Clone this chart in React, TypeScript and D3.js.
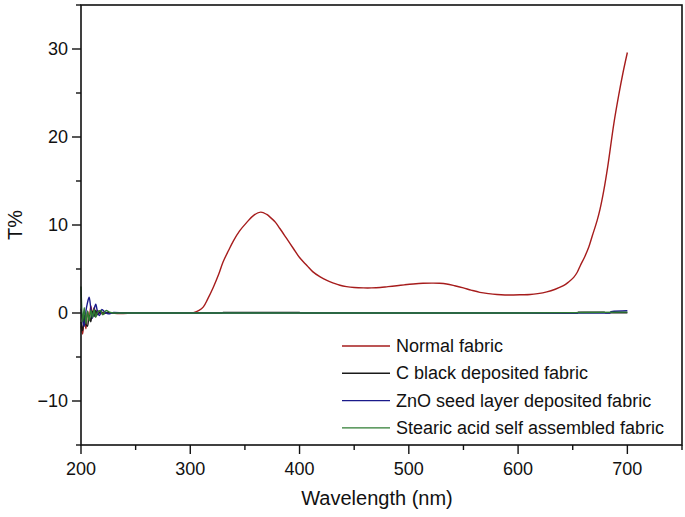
import React from "react";
import * as d3 from "d3";

const xTicksMajor = [200, 300, 400, 500, 600, 700];
const xTicksMinor = [250, 350, 450, 550, 650, 750];
const yTicksMajor = [-10, 0, 10, 20, 30];
const yTicksMinor = [-15, -5, 5, 15, 25, 35];

const seriesNames = [
  "Normal fabric",
  "C black deposited fabric",
  "ZnO seed layer deposited fabric",
  "Stearic acid self assembled fabric",
];
const seriesColors = ["#a61c1c", "#1a1a1a", "#1a1a8a", "#2e7d32"];

const normalWl = [200,201.5,203,204.5,206,207.5,209,210.5,212,213.5,215,218,221,224,228,235,250,270,290,300,303,308,312,316,321,326,330,335,339.5,345,351.7,358,364.5,370,373,378,382,388,394.5,400,406.7,412,418.9,425,431,437,443,450,458.5,466,473.8,481,489,496,504,513,522.4,528,534.6,542,549.9,557,565,573,580.7,588,595.9,603,611,618,626.3,634,641.5,646,650.9,654,657,661,664.7,668,672.3,675,678.4,682,687.6,692,696,700];
const normalT = [-1.5,-2.4,-0.4,-1.8,0.2,-0.7,0.8,-0.2,0.6,-0.2,0.3,-0.1,0.1,0,0,-0.05,0,0,0,0,0.05,0.3,0.7,1.6,2.9,4.4,5.8,7.1,8.2,9.3,10.3,11.1,11.46,11.2,10.9,10.3,9.6,8.5,7.3,6.3,5.4,4.7,4.1,3.7,3.4,3.15,3.0,2.9,2.85,2.85,2.9,3.0,3.1,3.2,3.3,3.38,3.4,3.38,3.3,3.1,2.85,2.6,2.35,2.2,2.1,2.05,2.05,2.07,2.1,2.2,2.4,2.7,3.1,3.5,4.05,4.6,5.4,6.4,7.5,8.8,10.5,11.8,13.9,16.6,21.5,24.7,27.3,29.6];

const blackWl = [200,201.5,203,204.5,206,207.5,209,210.5,212,213.5,215,218,221,224,227,232,240,260,280,300,329,330,400,401,450,500,550,600,654,655,679,680,700];
const blackT = [-1.0,-2.0,-0.2,-1.3,-1.5,-0.3,-1.0,0.2,-0.4,0.3,-0.2,0.2,-0.1,0.1,0,0,0.03,0,0,0,0,0.06,0.06,0,0,0,0,0,0,0.08,0.08,0.03,0.03];

const blueWl = [200,201.5,203,204.5,206,207.5,209,210.5,212,213.5,215,217,219,222,225,230,240,260,300,400,500,600,684,685,700];
const blueT = [0.5,-0.8,-1.5,0.2,1.2,1.8,0.5,-0.6,0.4,1.0,0.2,-0.3,0.4,0.1,-0.1,0.05,0,0,0,0,0,0,0,0.15,0.25];

const greenWl = [200,201.5,203,204.5,206,207.5,209,210.5,212,213.5,215,218,220,223,226,230,240,260,300,400,500,600,660,700];
const greenT = [3.0,-1.0,0.6,-1.2,0.2,-0.9,0.3,-0.5,0.4,-0.5,0.1,0.3,-0.2,0.3,0.1,0,0,0,0,0,0,0,0.05,0.1];

const seriesWl = [normalWl, blackWl, blueWl, greenWl];
const seriesT = [normalT, blackT, blueT, greenT];

const W = 685;
const H = 517;
const left = 81;
const right = 682;
const top = 5;
const bottom = 445;

export default function App() {
  const x = d3.scaleLinear().domain([200, 750]).range([left, right]);
  const y = d3.scaleLinear().domain([-15, 35]).range([bottom, top]);
  const font = "'Liberation Sans', Arial, sans-serif";

  const smooth = d3
    .line<[number, number]>()
    .x((d) => x(d[0]))
    .y((d) => y(d[1]))
    .curve(d3.curveCatmullRom.alpha(0.5));
  const mono = d3
    .line<[number, number]>()
    .x((d) => x(d[0]))
    .y((d) => y(d[1]))
    .curve(d3.curveMonotoneX);

  const drawOrder = [0, 1, 2, 3];

  return (
    <svg
      width={W}
      height={H}
      style={{ position: "absolute", left: 0, top: 0, background: "#fff" }}
      fontFamily={font}
    >
      <rect x={0} y={0} width={W} height={H} fill="#fff" />
      {drawOrder.map((i) => {
        const pts = seriesWl[i].map((w, k) => [w, seriesT[i][k]] as [number, number]);
        const gen = i === 0 ? smooth : mono;
        return (
          <path
            key={i}
            d={gen(pts) || ""}
            fill="none"
            stroke={seriesColors[i]}
            strokeWidth={1.4}
            strokeLinejoin="round"
          />
        );
      })}

      {/* frame */}
      <rect
        x={left}
        y={top}
        width={right - left}
        height={bottom - top}
        fill="none"
        stroke="#111"
        strokeWidth={1.6}
      />

      {/* x ticks */}
      {xTicksMajor.map((t) => (
        <g key={"xm" + t}>
          <line x1={x(t)} x2={x(t)} y1={bottom} y2={bottom + 9} stroke="#111" strokeWidth={1.4} />
          <text x={x(t)} y={bottom + 30} textAnchor="middle" fontSize={18} fill="#111">
            {t}
          </text>
        </g>
      ))}
      {xTicksMinor.map((t) => (
        <line key={"xn" + t} x1={x(t)} x2={x(t)} y1={bottom} y2={bottom + 5} stroke="#111" strokeWidth={1.4} />
      ))}

      {/* y ticks */}
      {yTicksMajor.map((t) => (
        <g key={"ym" + t}>
          <line x1={left - 9} x2={left} y1={y(t)} y2={y(t)} stroke="#111" strokeWidth={1.4} />
          <text x={left - 13} y={y(t) + 6} textAnchor="end" fontSize={18} fill="#111">
            {t < 0 ? "\u2212" + Math.abs(t) : t}
          </text>
        </g>
      ))}
      {yTicksMinor.map((t) => (
        <line key={"yn" + t} x1={left - 5} x2={left} y1={y(t)} y2={y(t)} stroke="#111" strokeWidth={1.4} />
      ))}

      {/* axis titles */}
      <text x={377} y={505} textAnchor="middle" fontSize={20} fill="#111">
        Wavelength (nm)
      </text>
      <text
        transform={`translate(22, ${y(10)}) rotate(-90)`}
        textAnchor="middle"
        fontSize={20}
        fill="#111"
      >
        T%
      </text>

      {/* legend */}
      {seriesNames.map((n, i) => {
        const cy = 346 + i * 27.3;
        return (
          <g key={n}>
            <line x1={342} x2={390} y1={cy} y2={cy} stroke={seriesColors[i]} strokeWidth={1.4} />
            <text x={396} y={cy + 6} fontSize={18} fill="#111">
              {n}
            </text>
          </g>
        );
      })}
    </svg>
  );
}
